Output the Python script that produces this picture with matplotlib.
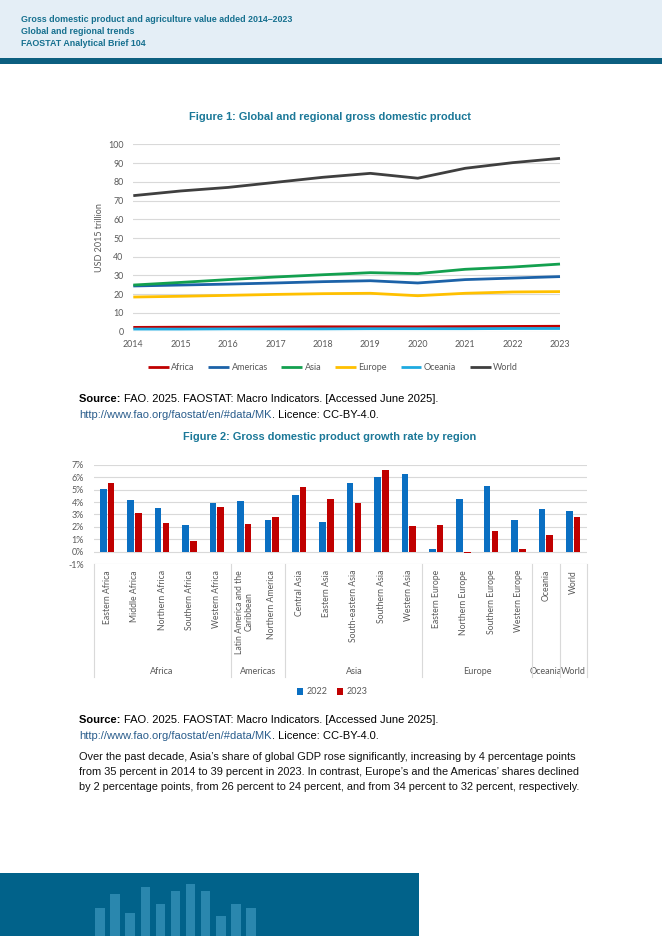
import matplotlib
matplotlib.use('Agg')
import matplotlib.pyplot as plt
import numpy as np
from matplotlib.lines import Line2D
from matplotlib.patches import Rectangle
from matplotlib.transforms import blended_transform_factory

W, H = 662, 936

# Figure 1 data (USD 2015 trillion)
years = list(range(2014, 2024))
africa = [2.3, 2.4, 2.4, 2.5, 2.6, 2.6, 2.6, 2.7, 2.8, 2.9]
americas = [24.4, 24.9, 25.4, 26.0, 26.7, 27.2, 26.0, 27.8, 28.6, 29.4]
asia = [24.9, 26.3, 27.8, 29.2, 30.4, 31.5, 31.0, 33.3, 34.5, 36.1]
europe = [18.5, 18.9, 19.4, 19.9, 20.3, 20.5, 19.2, 20.5, 21.2, 21.4]
oceania = [1.4, 1.4, 1.5, 1.5, 1.5, 1.6, 1.6, 1.6, 1.7, 1.7]
world = [72.6, 75.1, 77.0, 79.7, 82.4, 84.5, 81.9, 87.2, 90.2, 92.5]

# Figure 2 data (growth rate, %)
subregions = ['Eastern Africa', 'Middle Africa', 'Northern Africa', 'Southern Africa',
              'Western Africa', 'Latin America and the\nCaribbean', 'Northern America',
              'Central Asia', 'Eastern Asia', 'South-eastern Asia', 'Southern Asia',
              'Western Asia', 'Eastern Europe', 'Northern Europe', 'Southern Europe',
              'Western Europe', 'Oceania', 'World']
groups = ['Africa', 'Americas', 'Asia', 'Europe', 'Oceania', 'World']
group_sizes = [5, 2, 5, 4, 1, 1]
growth_2022 = [5.05, 4.2, 3.53, 2.14, 3.93, 4.06, 2.59, 4.55, 2.41, 5.56, 6.02, 6.26,
               0.19, 4.22, 5.32, 2.57, 3.42, 3.26]
growth_2023 = [5.53, 3.13, 2.33, 0.86, 3.64, 2.22, 2.78, 5.19, 4.28, 3.9, 6.58, 2.06,
               2.19, -0.1, 1.68, 0.24, 1.36, 2.81]

# decorative footer bars (height in px)
footer_bars = [27.7, 42, 23.3, 49.3, 31.7, 45, 51.7, 45.3, 20.3, 32.3, 27.7]

GRAY = '#595959'
GRID = '#d9d9d9'
TEAL = '#1b7898'
CHART_FONT = ['Lato', 'DejaVu Sans']
TEXT_FONT = ['Liberation Sans', 'DejaVu Sans']
BODY_SIZE = 8.0

fig = plt.figure(figsize=(W / 100, H / 100), dpi=100)
fig.patch.set_facecolor('white')


def fx(x):
    return x / W


def fy(y):
    return 1 - y / H


def px_axes(left, top, right, bottom):
    return fig.add_axes([fx(left), fy(bottom), (right - left) / W, (bottom - top) / H])


# header
fig.add_artist(Rectangle((0, fy(58)), 1, 58 / H, transform=fig.transFigure,
                         color='#e4eef6', lw=0))
fig.add_artist(Rectangle((0, fy(64)), 1, 6 / H, transform=fig.transFigure,
                         color='#0c5f80', lw=0))
for y, s in [(20, 'Gross domestic product and agriculture value added 2014\u20132023'),
             (31, 'Global and regional trends'),
             (43, 'FAOSTAT Analytical Brief 104')]:
    fig.text(fx(21), fy(y), s, ha='left', va='center', fontsize=6.4, fontweight='bold',
             color='#16708f', family=TEXT_FONT)

# Figure 1
fig.text(fx(330), fy(117), 'Figure 1: Global and regional gross domestic product',
         ha='center', va='center', fontsize=7.9, fontweight='bold', color=TEAL,
         family=TEXT_FONT)

ax1 = px_axes(133.3, 144.3, 560, 331.7)
series = [('Africa', africa, '#c00000'), ('Americas', americas, '#1c62a8'),
          ('Asia', asia, '#13a04f'), ('Europe', europe, '#ffc000'),
          ('Oceania', oceania, '#1eaae0'), ('World', world, '#3f3f3f')]
for name, vals, col in series:
    ax1.plot(years, vals, color=col, lw=2.0, label=name, clip_on=False,
             solid_joinstyle='round', solid_capstyle='butt')
ax1.set_xlim(2014, 2023)
ax1.set_ylim(0, 100)
ax1.set_yticks(range(0, 101, 10))
ax1.set_xticks(years)
ax1.grid(axis='y', color=GRID, lw=0.8)
ax1.set_axisbelow(True)
for sp in ax1.spines.values():
    sp.set_visible(False)
ax1.tick_params(length=0, labelsize=6.4, labelcolor=GRAY)
ax1.tick_params(axis='y', pad=7)
ax1.tick_params(axis='x', pad=6)
for lab in ax1.get_xticklabels() + ax1.get_yticklabels():
    lab.set_family(CHART_FONT)
fig.text(fx(99), fy(238), 'USD 2015 trillion', rotation=90, ha='center', va='center',
         fontsize=6.5, color=GRAY, family=CHART_FONT)
ax1.legend(loc='center', bbox_to_anchor=(fx(333), fy(368)),
           bbox_transform=fig.transFigure, ncol=6, frameon=False,
           handlelength=2.3, columnspacing=1.5, handletextpad=0.3,
           prop={'family': CHART_FONT, 'size': 6.5}, labelcolor=GRAY)

renderer = fig.canvas.get_renderer()


def source_block(y1, y2):
    t = fig.text(fx(79), fy(y1), 'Source: ', ha='left', va='center', fontsize=BODY_SIZE,
                 fontweight='bold', color='black', family=TEXT_FONT)
    bb = t.get_window_extent(renderer)
    fig.text(bb.x1 / W + 1 / W, fy(y1),
             'FAO. 2025. FAOSTAT: Macro Indicators. [Accessed June 2025].',
             ha='left', va='center', fontsize=BODY_SIZE, color='black', family=TEXT_FONT)
    t2 = fig.text(fx(79), fy(y2), 'http://www.fao.org/faostat/en/#data/MK', ha='left',
                  va='center', fontsize=BODY_SIZE, color='#2a5d8c', family=TEXT_FONT)
    bb2 = t2.get_window_extent(renderer)
    fig.text(bb2.x1 / W, fy(y2), '. Licence: CC-BY-4.0.', ha='left', va='center',
             fontsize=BODY_SIZE, color='black', family=TEXT_FONT)


source_block(399, 415)

# Figure 2
fig.text(fx(330), fy(437), 'Figure 2: Gross domestic product growth rate by region',
         ha='center', va='center', fontsize=7.9, fontweight='bold', color=TEAL,
         family=TEXT_FONT)

ax2 = px_axes(93.5, 464.7, 587, 564.3)
x = np.arange(len(subregions))
ax2.bar(x - 0.14, growth_2022, 0.24, color='#0a6fc2', label='2022', zorder=3)
ax2.bar(x + 0.14, growth_2023, 0.24, color='#c00000', label='2023', zorder=3)
ax2.set_xlim(-0.5, len(subregions) - 0.5)
ax2.set_ylim(-1, 7)
ax2.set_yticks(range(-1, 8))
ax2.set_yticklabels(['%d%%' % v for v in range(-1, 8)])
ax2.set_xticks([])
ax2.grid(axis='y', color=GRID, lw=0.8)
for sp in ax2.spines.values():
    sp.set_visible(False)
ax2.tick_params(length=0, labelsize=6.4, labelcolor=GRAY, pad=7)
for lab in ax2.get_yticklabels():
    lab.set_family(CHART_FONT)

blend = blended_transform_factory(ax2.transData, fig.transFigure)
for i, name in enumerate(subregions):
    ax2.text(i, fy(570), name, transform=blend, rotation=90, ha='center', va='top',
             multialignment='center', fontsize=6.2, color=GRAY, family=CHART_FONT,
             linespacing=1.0)
edges = np.concatenate([[0], np.cumsum(group_sizes)]) - 0.5
for e in edges:
    fig.add_artist(Line2D([e, e], [fy(564.3), fy(677)], transform=blend, color=GRID,
                          lw=0.8))
for g, a, b in zip(groups, edges[:-1], edges[1:]):
    ax2.text((a + b) / 2, fy(671), g, transform=blend, ha='center', va='center',
             fontsize=6.5, color=GRAY, family=CHART_FONT)
ax2.legend(loc='center', bbox_to_anchor=(fx(332), fy(692)), bbox_transform=fig.transFigure,
           ncol=2, frameon=False, handlelength=0.7, handleheight=0.7, columnspacing=1.0,
           handletextpad=0.4, prop={'family': CHART_FONT, 'size': 6.5}, labelcolor=GRAY)

source_block(720, 736)

paragraph = [
    'Over the past decade, Asia\u2019s share of global GDP rose significantly, increasing by 4 percentage points',
    'from 35 percent in 2014 to 39 percent in 2023. In contrast, Europe\u2019s and the Americas\u2019 shares declined',
    'by 2 percentage points, from 26 percent to 24 percent, and from 34 percent to 32 percent, respectively.',
]
for y, line in zip([757.3, 772.0, 786.5], paragraph):
    fig.text(fx(79), fy(y), line, ha='left', va='center', fontsize=7.92,
             color='#111111', family=TEXT_FONT)

# footer band with decorative bars
axf = px_axes(0, 873, 419, 936)
axf.set_facecolor('#01628a')
pitch = 15.1
axf.bar(np.arange(len(footer_bars)), footer_bars, 0.63, color='#2a87ae', lw=0)
axf.set_xlim(-100 / pitch, (419 - 100) / pitch)
axf.set_ylim(0, 63)
axf.set_xticks([])
axf.set_yticks([])
for sp in axf.spines.values():
    sp.set_visible(False)

fig.savefig('out.png', dpi=100)
